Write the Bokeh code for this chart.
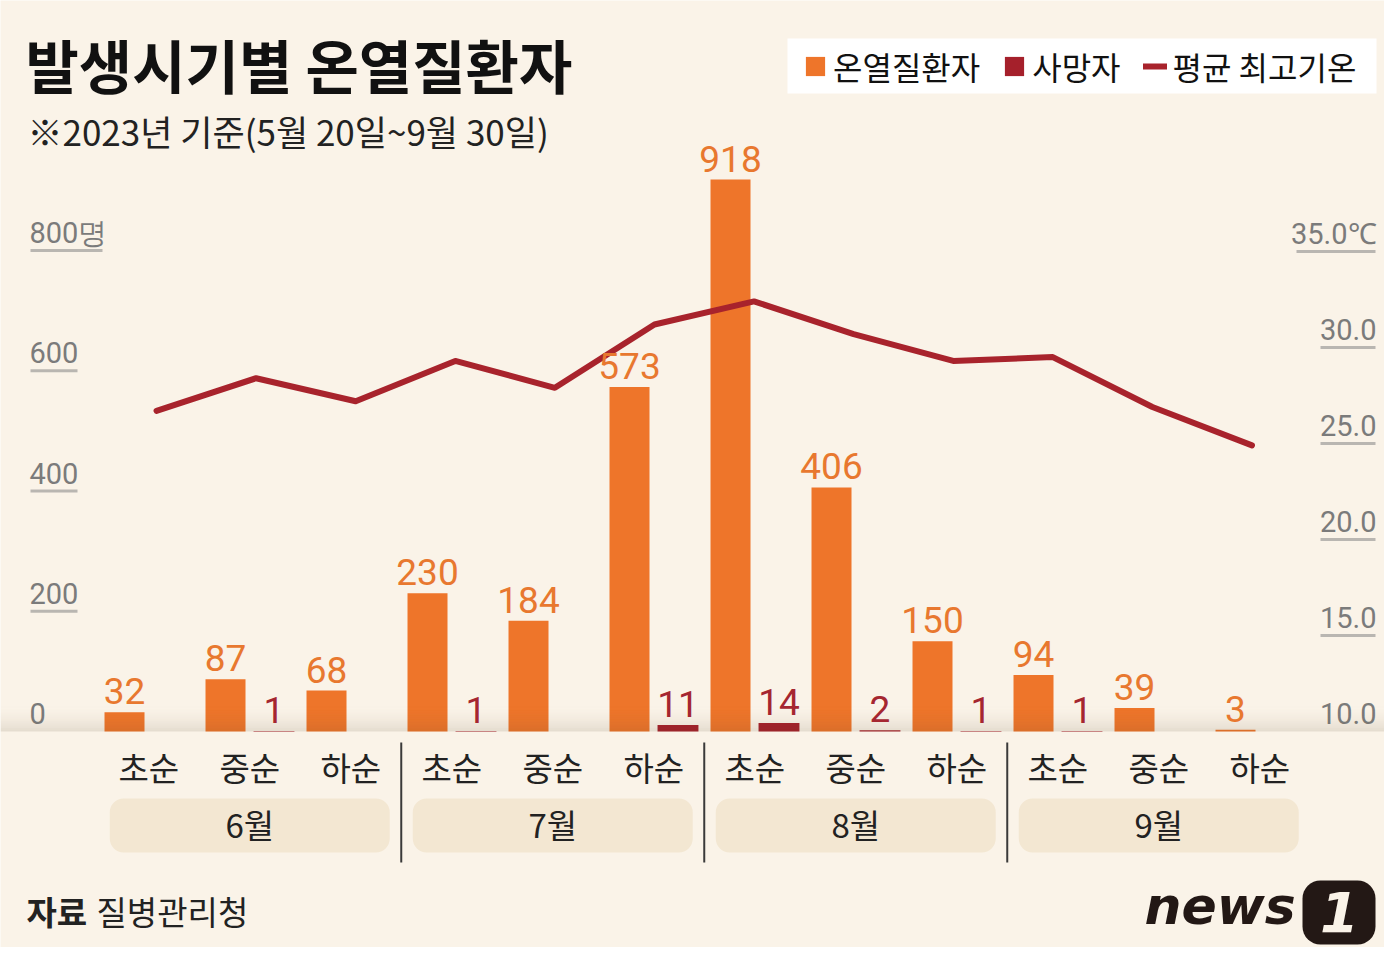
from bokeh.plotting import figure
from bokeh.models import Range1d, BoxAnnotation, Legend, LegendItem
from bokeh.core.properties import value
from bokeh.embed import file_html
from bokeh.resources import INLINE

# ---------------- data ----------------
months = ["6월", "7월", "8월", "9월"]
periods = ["초순", "중순", "하순"]
patients = [32, 87, 68, 230, 184, 573, 918, 406, 150, 94, 39, 3]
deaths = [0, 1, 0, 1, 0, 11, 14, 2, 1, 1, 0, 0]
max_temp = [26.7, 28.4, 27.2, 29.3, 27.9, 31.2, 32.4, 30.7, 29.3, 29.5, 26.9, 24.9]
left_ticks = [0, 200, 400, 600, 800]
left_tick_labels = ["0", "200", "400", "600", "800명"]
right_ticks = [10, 15, 20, 25, 30, 35]
right_tick_labels = ["10.0", "15.0", "20.0", "25.0", "30.0", "35.0℃"]

title = "발생시기별 온열질환자"
subtitle = "※2023년 기준(5월 20일~9월 30일)"
source_label = "자료"
source_name = "질병관리청"

# ---------------- style ----------------
BG = "#faf3e8"
ORANGE = "#ee752a"
ORANGE_TXT = "#e8782f"
DEATH = "#a5202b"
DEATH_TXT = "#a52630"
LINE = "#a8232c"
PILL = "#f3e7d2"
GREY = "#7b7b7b"
UNDER = "#b9b6b1"
KR = value("Noto Sans CJK KR")
NUM = value("Roboto")

W, H = 1384, 947
OFF = 0             # page offset of the canvas
PX = 101.0          # px per period
X0 = 148.25         # reference px of first period centre
BASE = 731.0        # reference px of baseline
K = 0.60125         # px per person
KT = 19.2           # px per degree


def fx(X):
    return (X - X0) / PX


def fy(Y):
    return (BASE - Y) / K


x_start, x_end = fx(OFF), fx(OFF + W)
y_start, y_end = fy(OFF + H), fy(OFF)
t_start, t_end = 10 - (OFF + H - BASE) / KT, 10 + (BASE - OFF) / KT

p = figure(width=W, height=H, x_range=Range1d(x_start, x_end), y_range=Range1d(y_start, y_end),
           output_backend="svg", toolbar_location=None, x_axis_location=None, y_axis_location=None,
           min_border=0, background_fill_color=BG, border_fill_color=BG, outline_line_color=None)
p.extra_y_ranges = {"temp": Range1d(t_start, t_end)}
p.xgrid.visible = False
p.ygrid.visible = False

n = len(patients)
idx = list(range(n))
x_or = [i - 0.24 for i in idx]
x_de = [i + 0.24 for i in idx]
x_ln = [0.077 + 0.986 * i for i in idx]

# ---------- axis-like tick labels with underlines ----------
lw_left = [0, 47, 47, 47, 72]
p.segment(x0=[fx(30)] * len(left_ticks), x1=[fx(30 + w) for w in lw_left],
          y0=left_ticks, y1=left_ticks, line_color=UNDER, line_width=3,
          line_alpha=[0 if w == 0 else 1 for w in lw_left])
p.text(x=[fx(29)] * len(left_ticks), y=left_ticks, text=left_tick_labels, text_align="left",
       text_baseline="alphabetic", y_offset=-18, text_font=NUM, text_font_size="29px",
       text_color=GREY)

rw = [0, 55, 55, 55, 55, 79]
p.segment(x0=[fx(1375 - w) for w in rw], x1=[fx(1375)] * len(rw), y0=right_ticks, y1=right_ticks,
          y_range_name="temp", line_color=UNDER, line_width=3,
          line_alpha=[0 if w == 0 else 1 for w in rw])
p.text(x=[fx(1376)] * len(right_ticks), y=right_ticks, text=right_tick_labels, text_align="right",
       text_baseline="alphabetic", y_offset=-18, y_range_name="temp", text_font=NUM,
       text_font_size="29px", text_color=GREY)

# ---------- bars ----------
r_or = p.vbar(x=x_or, top=patients, bottom=0, width=0.396, fill_color=ORANGE, line_color=None)
r_de = p.vbar(x=x_de, top=deaths, bottom=0, width=0.405, fill_color=DEATH, line_color=None)

# ---------- baseline shadow ----------
NS = 16
sh_top, sh_bot, sh_alpha = [], [], []
for k in range(NS):
    y1 = BASE - 28 + 28 * k / NS
    y2 = BASE - 28 + 28 * (k + 1) / NS
    sh_top.append(fy(y1))
    sh_bot.append(fy(y2))
    sh_alpha.append(0.13 * ((k + 1) / NS) ** 2)
p.quad(left=[x_start] * NS, right=[x_end] * NS, top=sh_top, bottom=sh_bot,
       fill_color="#5a4a30", fill_alpha=sh_alpha, line_color=None)

# ---------- temperature line ----------
r_ln = p.line(x=x_ln, y=max_temp, y_range_name="temp", line_color=LINE, line_width=6,
              line_join="round", line_cap="round")

# ---------- value labels ----------
p.text(x=x_or, y=patients, text=[str(v) for v in patients], text_align="center",
       text_baseline="alphabetic", y_offset=-21, text_font=NUM, text_font_size="37px",
       text_color=ORANGE_TXT)
dx = [x for x, d in zip(x_de, deaths) if d > 0]
dy = [d for d in deaths if d > 0]
p.text(x=dx, y=dy, text=[str(d) for d in dy], text_align="center", text_baseline="alphabetic",
       y_offset=-21, text_font=NUM, text_font_size="37px", text_color=DEATH_TXT)

# ---------- category labels ----------
p.text(x=idx, y=[fy(766)] * n, text=periods * len(months), text_align="center",
       text_baseline="middle", text_font=KR, text_font_size="33px", text_color="#222222")
for m, mon in enumerate(months):
    c = 3 * m + 1
    p.add_layout(BoxAnnotation(left=c - 1.386, right=c + 1.386, top=fy(798), bottom=fy(852),
                               fill_color=PILL, fill_alpha=1, line_color=None,
                               border_radius=14, level="underlay"))
p.text(x=[3 * m + 1 for m in range(len(months))], y=[fy(823)] * len(months), text=months,
       text_align="center", text_baseline="middle", text_font=KR, text_font_size="33px",
       text_color="#222222")
seps = [3 * m + 2.5 for m in range(len(months) - 1)]
p.segment(x0=seps, x1=seps, y0=[fy(742)] * len(seps), y1=[fy(862)] * len(seps),
          line_color="#3a3a3a", line_width=2)

# ---------- title / subtitle / source ----------
p.text(x=[fx(25)], y=[fy(63)], text=[title], text_align="left", text_baseline="middle",
       text_font=KR, text_font_size="58px", text_font_style="bold", text_color="#111111")
p.text(x=[fx(27)], y=[fy(130)], text=[subtitle], text_align="left", text_baseline="middle",
       text_font=KR, text_font_size="35px", text_color="#222222")
p.text(x=[fx(26)], y=[fy(910)], text=[source_label], text_align="left", text_baseline="middle",
       text_font=KR, text_font_size="33px", text_font_style="bold", text_color="#222222")
p.text(x=[fx(96)], y=[fy(910)], text=[source_name], text_align="left", text_baseline="middle",
       text_font=KR, text_font_size="33px", text_color="#222222")

# ---------- logo ----------
p.text(x=[fx(1144)], y=[fy(905)], text=["news"], text_align="left", text_baseline="middle",
       text_font=value("DejaVu Sans"), text_font_size="52px", text_font_style="bold italic",
       text_color="#231815")
p.add_layout(BoxAnnotation(left=fx(1302), right=fx(1375), top=fy(880), bottom=fy(944),
                           fill_color="#231815", fill_alpha=1, line_color=None,
                           border_radius=18, level="underlay"))
p.text(x=[fx(1339)], y=[fy(911)], text=["1"], text_align="center", text_baseline="middle",
       text_font=value("DejaVu Sans"), text_font_size="56px", text_font_style="bold italic",
       text_color=BG)

# ---------- legend ----------
p.add_layout(BoxAnnotation(left=fx(787), right=fx(1376), top=fy(38), bottom=fy(93),
                           fill_color="white", fill_alpha=1, line_color=None, level="underlay"))
legend = Legend(items=[LegendItem(label="온열질환자", renderers=[r_or]),
                       LegendItem(label="사망자", renderers=[r_de]),
                       LegendItem(label="평균 최고기온", renderers=[r_ln])],
                orientation="horizontal", location=(803 - OFF, H - (65 - OFF) - 24),
                background_fill_alpha=0, border_line_color=None,
                label_text_font="Noto Sans CJK KR", label_text_font_size="32px",
                label_text_color="#111111", label_text_baseline="middle",
                glyph_width=24, glyph_height=24, label_standoff=6, spacing=22,
                padding=0, margin=0)
p.add_layout(legend)

open("out.html", "w").write(file_html(p, INLINE))
